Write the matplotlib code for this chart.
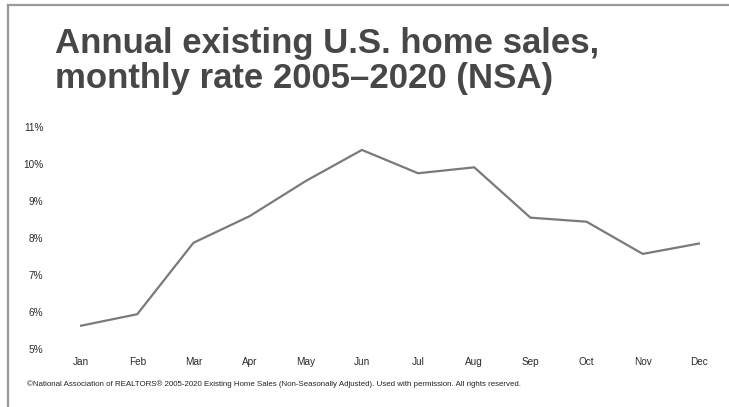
import matplotlib
matplotlib.use("Agg")
import matplotlib.pyplot as plt
from matplotlib.lines import Line2D

months = ['Jan', 'Feb', 'Mar', 'Apr', 'May', 'Jun',
          'Jul', 'Aug', 'Sep', 'Oct', 'Nov', 'Dec']
share = [5.63, 5.94, 7.87, 8.59, 9.54, 10.38,
         9.75, 9.91, 8.55, 8.44, 7.57, 7.85]
yticks = [5, 6, 7, 8, 9, 10, 11]

plt.rcParams['font.family'] = ['Liberation Sans', 'DejaVu Sans']

W, H = 729, 407
fig = plt.figure(figsize=(W / 100, H / 100), dpi=100)

# plot area (pixel measurements from the reference)
ax = fig.add_axes([53 / W, 1 - 349 / H, 674 / W, 222 / H])
ax.plot(range(len(months)), share, color='#7a7a7a', linewidth=1.6)
ax.set_xlim(-0.5, len(months) - 0.5)
ax.set_ylim(5, 11)
ax.set_xticks(range(len(months)))
ax.set_xticklabels(months)
ax.set_yticks(yticks)
ax.set_yticklabels([f'{v}%' for v in yticks])
ax.tick_params(length=0, labelsize=7.2, colors='#2a2a2a')
ax.tick_params(axis='x', pad=6)
ax.tick_params(axis='y', pad=7)
for s in ax.spines.values():
    s.set_visible(False)

# title, two lines
title_kw = dict(fontsize=25.0, fontweight='bold', color='#474747', va='baseline', ha='left')
fig.text(55 / W, 1 - 52.5 / H, 'Annual existing U.S. home sales,', **title_kw)
fig.text(55 / W, 1 - 88 / H, 'monthly rate 2005\u20132020 (NSA)', **title_kw)

fig.text(27 / W, 1 - 386 / H,
         '\u00a9National Association of REALTORS\u00ae 2005-2020 Existing Home Sales '
         '(Non-Seasonally Adjusted). Used with permission. All rights reserved.',
         fontsize=5.7, color='#222222', va='baseline', ha='left')

# frame lines at top and left
fig.add_artist(Line2D([8 / W, 1], [1 - 5 / H, 1 - 5 / H], color='#999999', linewidth=1.6))
fig.add_artist(Line2D([8 / W, 8 / W], [0, 1 - 5 / H], color='#999999', linewidth=1.6))

fig.savefig('out.png', dpi=100)
